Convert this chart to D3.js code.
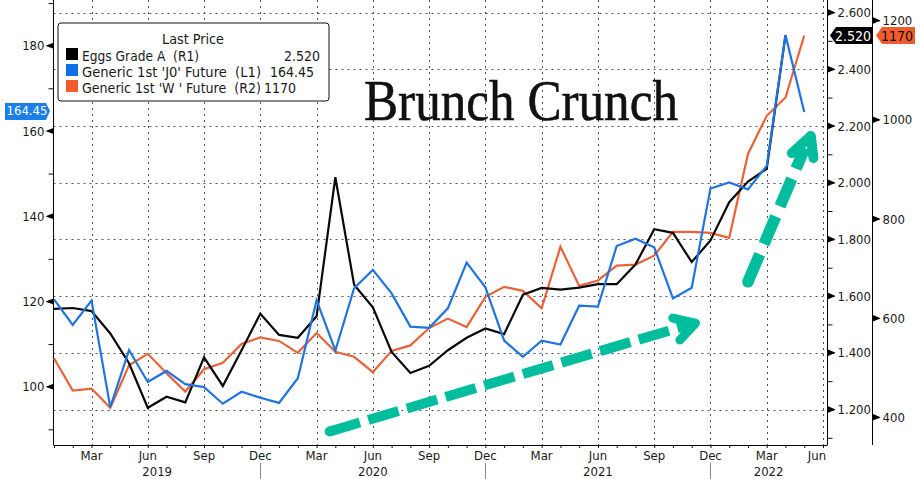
<!DOCTYPE html>
<html><head><meta charset="utf-8">
<script src="https://cdn.jsdelivr.net/npm/d3@7"></script>
<style>
html,body{margin:0;padding:0;background:#fff;overflow:hidden}
svg{display:block}
text{font-family:"DejaVu Sans Condensed","DejaVu Sans",sans-serif;white-space:pre;fill:#1a1a1a}
</style></head><body>
<svg id="c" width="920" height="479"></svg>
<script>
const months=["Jan 19","Feb 19","Mar 19","Apr 19","May 19","Jun 19","Jul 19","Aug 19","Sep 19","Oct 19","Nov 19","Dec 19",
"Jan 20","Feb 20","Mar 20","Apr 20","May 20","Jun 20","Jul 20","Aug 20","Sep 20","Oct 20","Nov 20","Dec 20",
"Jan 21","Feb 21","Mar 21","Apr 21","May 21","Jun 21","Jul 21","Aug 21","Sep 21","Oct 21","Nov 21","Dec 21",
"Jan 22","Feb 22","Mar 22","Apr 22","May 22","Jun 22"];
const eggs=[1.555,1.558,1.547,1.468,1.363,1.206,1.245,1.225,1.384,1.283,1.409,1.538,1.463,1.453,1.529,2.019,1.640,1.560,1.403,1.329,1.354,1.409,1.453,1.486,1.466,1.605,1.629,1.623,1.630,1.642,1.642,1.711,1.836,1.823,1.720,1.796,1.931,2.004,2.049,2.520];
const jo=[120.5,114.5,120.2,95.2,108.6,101.1,103.7,100.6,99.9,96.0,98.8,97.4,96.2,102.0,120.3,108.5,123.1,127.4,121.9,114.1,113.8,118.4,129.1,123.3,110.8,107.0,110.8,109.9,119.0,118.8,133.0,134.7,132.7,120.7,123.2,146.5,147.9,146.3,151.8,182.5,164.45];
const wheat=[519,454,458,419,505,528,489,452,497,510,548,561,554,530,570,532,522,491,534,545,580,599,582,643,663,655,620,744,665,676,706,708,726,774,774,772,762,931,1008,1045,1170];
const leftTicks=[100,120,140,160,180], leftMinor=[90,110,130,150,170,190];
const r1Ticks=[1.2,1.4,1.6,1.8,2.0,2.2,2.4,2.6], r1Minor=[1.1,1.3,1.5,1.7,1.9,2.1,2.3,2.5];
const r2Ticks=[400,600,800,1000,1200];
const quarterIdx=[2,5,8,11,14,17,20,23,26,29,32,35,38,41];
const quarterLabels=["Mar","Jun","Sep","Dec","Mar","Jun","Sep","Dec","Mar","Jun","Sep","Dec","Mar","Jun"];
const years=["2019","2020","2021","2022"], yearCentreIdx=[5.5,17,29,38.1], yearBreaks=[11,23,35];
const titleText="Brunch Crunch";
const legendRows=[["Eggs Grade A  (R1)","2.520"],["Generic 1st 'J0' Future  (L1)","164.45"],["Generic 1st 'W ' Future  (R2)","1170"]];
// annotation arrows, in month index / left-axis value
const arrowA={from:[14.7,89.5],to:[33.9,114.6],tip:[34.2,114.9],a:[32.99,116.1],b:[33.37,110.96]};
const arrowB={from:[37.0,124.6],to:[40.03,156.0],tip:[40.35,158.8],a:[39.34,154.8],b:[40.49,153.65]};

const BLACK="#0a0a0a",BLUE="#1f74e0",ORANGE="#e9623a",TEAL="#00bd9d",GRID="#555";
const L=53.5,R1=827.5,R2=872.5,B=445;
const x=d3.scaleLinear().domain([0,41]).range([54,823]);
const yL=d3.scaleLinear().domain([100,180]).range([386.7,45.7]);
const yR1=d3.scaleLinear().domain([1.2,2.6]).range([409.5,12.5]);
const yR2=d3.scaleLinear().domain([400,1200]).range([417.3,20.6]);
const svg=d3.select("#c");

// grid
const grid=svg.append("g").attr("stroke",GRID).attr("stroke-width",1).attr("stroke-dasharray","2 4");
grid.selectAll("line.h").data(r1Ticks).join("line").attr("x1",L).attr("x2",R1)
  .attr("y1",d=>Math.round(yR1(d))+.5).attr("y2",d=>Math.round(yR1(d))+.5);
grid.selectAll("line.v").data(quarterIdx).join("line")
  .attr("x1",d=>Math.round(x(d))+.5).attr("x2",d=>Math.round(x(d))+.5).attr("y1",0).attr("y2",B);

// axes
function styleAxis(g){g.select(".domain").remove();g.selectAll("line").attr("stroke","#111");g.selectAll("text").style("font-size","13px");}
svg.append("g").attr("transform",`translate(${L},0)`).call(d3.axisLeft(yL).tickValues(leftMinor).tickSize(5).tickFormat("")).call(styleAxis);
svg.append("g").attr("transform",`translate(${L},0)`).call(d3.axisLeft(yL).tickValues(leftTicks).tickSize(6).tickPadding(3).tickFormat(d3.format("d"))).call(styleAxis);
svg.append("g").attr("transform",`translate(${R1},0)`).call(d3.axisRight(yR1).tickValues(r1Minor).tickSize(5).tickFormat("")).call(styleAxis);
svg.append("g").attr("transform",`translate(${R1},0)`).call(d3.axisRight(yR1).tickValues(r1Ticks).tickSize(7).tickPadding(3).tickFormat(d3.format(".3f"))).call(styleAxis);
svg.append("g").attr("transform",`translate(${R2},0)`).call(d3.axisRight(yR2).tickValues(r2Ticks).tickSize(7).tickPadding(3).tickFormat(d3.format("d"))).call(styleAxis);
[L,R1,R2].forEach(v=>svg.append("line").attr("x1",v).attr("x2",v).attr("y1",0).attr("y2",B).attr("stroke","#000").attr("stroke-width",1));
svg.append("line").attr("x1",L).attr("x2",R1).attr("y1",B+.5).attr("y2",B+.5).attr("stroke","#000");

// triangle tick marks
const tri=svg.append("g").attr("fill","#000");
tri.selectAll("path.l").data(leftTicks).join("path").attr("d",d=>`M${L},${yL(d)-3}L${L-8},${yL(d)}L${L},${yL(d)+3}Z`);
tri.selectAll("path.r1").data(r1Ticks).join("path").attr("d",d=>`M${R1},${yR1(d)-3.5}L${R1+8},${yR1(d)}L${R1},${yR1(d)+3.5}Z`);
tri.selectAll("path.r2").data(r2Ticks).join("path").attr("d",d=>`M${R2},${yR2(d)-3.5}L${R2+8},${yR2(d)}L${R2},${yR2(d)+3.5}Z`);

// bottom axis
const xAxisG=svg.append("g").attr("transform",`translate(0,${B})`);
xAxisG.call(d3.axisBottom(x).tickValues(d3.range(0,months.length)).tickSize(3).tickFormat("")).call(styleAxis);
const xLab=svg.append("g").attr("text-anchor","middle");
xLab.selectAll("text").data(quarterIdx).join("text").attr("x",(d,i)=>i==13?x(d)-6:x(d)).attr("y",460).text((d,i)=>quarterLabels[i]).style("font-size","13px");
svg.append("g").selectAll("text").data(years).join("text").attr("text-anchor","middle").style("font-size","13px")
  .attr("x",(d,i)=>x(yearCentreIdx[i])).attr("y",476).text(d=>d);
svg.append("g").selectAll("line").data(yearBreaks).join("line").attr("stroke","#888")
  .attr("x1",d=>Math.round(x(d))+.5).attr("x2",d=>Math.round(x(d))+.5).attr("y1",463).attr("y2",479);

// title
svg.append("text").attr("x",364).attr("y",120).attr("textLength",314).attr("lengthAdjust","spacingAndGlyphs")
  .style("font-family","'Liberation Serif',serif").style("font-size","58px").style("fill","#111")
  .style("stroke","#111").style("stroke-width","0.6px").text(titleText);

// series
const lineGen=yS=>d3.line().x((d,i)=>x(i)).y(d=>yS(d)).curve(d3.curveLinear);
function draw(data,yS,color,w){svg.append("path").datum(data).attr("fill","none").attr("stroke",color).attr("stroke-width",w)
  .attr("stroke-linejoin","miter").attr("d",lineGen(yS));}
draw(wheat,yR2,ORANGE,2.2);
draw(eggs,yR1,BLACK,2.2);
draw(jo,yL,BLUE,2.2);

// arrows
function arrow(o,w,dash,hw){
  const p=([i,v])=>[x(i),yL(v)];
  const g=svg.append("g").attr("fill","none").attr("stroke",TEAL);
  g.append("line").attr("x1",p(o.from)[0]).attr("y1",p(o.from)[1]).attr("x2",p(o.to)[0]).attr("y2",p(o.to)[1])
    .attr("stroke-width",w).attr("stroke-dasharray",dash);
  g.append("circle").attr("cx",p(o.from)[0]).attr("cy",p(o.from)[1]).attr("r",w/2).attr("fill",TEAL).attr("stroke","none");
  g.append("path").attr("d",d3.line()([p(o.a),p(o.tip),p(o.b)])).attr("stroke-width",hw)
    .attr("stroke-linejoin","round").attr("stroke-linecap","round");
}
arrow(arrowA,10,"31.5 8.8",9);
arrow(arrowB,11.5,"30 11",10);

// legend
const lg=svg.append("g");
lg.append("rect").attr("x",58).attr("y",23).attr("width",271).attr("height",78).attr("rx",3).attr("fill","#fff").attr("stroke","#111");
lg.append("text").attr("x",162).attr("y",44).attr("textLength",62).attr("lengthAdjust","spacingAndGlyphs").style("font-size","14px").text("Last Price");
const valueX=[320,314,296], nameLen=[117,179,179];
legendRows.forEach((r,i)=>{
  const y=60+i*16;
  lg.append("rect").attr("x",66).attr("y",y-12).attr("width",12).attr("height",12).attr("fill",i==1?"#0f6fe8":i==2?"#f25c2c":"#000");
  lg.append("text").attr("x",82).attr("y",y+.5).attr("textLength",nameLen[i]).attr("lengthAdjust","spacingAndGlyphs").style("font-size","14px").text(r[0]);
  lg.append("text").attr("x",valueX[i]).attr("y",y+.5).attr("text-anchor","end").style("font-size","14px").text(r[1]);
});

// last price badges
svg.append("path").attr("d",`M5,${yL(164.45)-9}H46L50,${yL(164.45)-1}L46,${yL(164.45)+8}H5Z`).attr("fill","#1a7fe8");
svg.append("text").attr("x",27).attr("y",yL(164.45)+3.5).attr("text-anchor","middle").style("font-size","13px").style("fill","#fff").text(d3.format(".2f")(164.45));
svg.append("path").attr("d",`M873,27V44H836L830,35.5L836,27Z`).attr("fill","#000");
svg.append("text").attr("x",853).attr("y",41).attr("text-anchor","middle").style("font-size","14px").style("fill","#fff").text(d3.format(".3f")(2.52));
svg.append("path").attr("d",`M915,27V44H882L876,35.5L882,27Z`).attr("fill","#f25c2c");
svg.append("text").attr("x",897).attr("y",41).attr("text-anchor","middle").style("font-size","14px").style("fill","#111").text(d3.format("d")(1170));
</script>
</body></html>
